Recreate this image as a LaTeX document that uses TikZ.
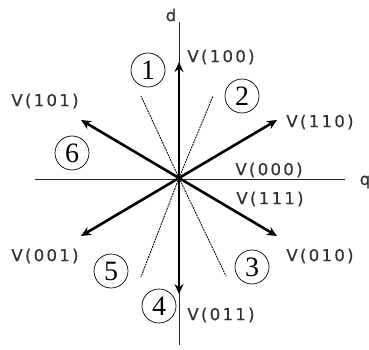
\documentclass[tikz,border=0pt]{standalone}
\usepackage{fontspec}
\setmainfont{Liberation Serif}
\newfontfamily\labfont[LetterSpace=14, FakeBold=0.6]{DejaVu Sans}
\usepackage{tikz}
\usetikzlibrary{arrows.meta}

\begin{document}
\begin{tikzpicture}[
  x=1pt, y=-1pt,
  axis/.style={line width=1pt, black!85},
  vec/.style={line width=2.6pt, -{Stealth[length=10pt,width=9pt]}},
  sector/.style={line width=0.9pt, dash pattern=on 1.8pt off 0.9pt},
  lab/.style={font=\labfont\fontsize{16.5}{16.5}\selectfont, text=black!80, inner sep=0pt},
  num/.style={draw, circle, line width=0.7pt, minimum size=34pt, inner sep=0pt, font=\fontsize{28}{28}\selectfont}
]
  \useasboundingbox (0,0) rectangle (369,350);
  % axes
  \coordinate (o) at (179,178);
  \coordinate (dtop) at (179,22);
  \coordinate (dbot) at (179,345);
  \coordinate (qleft) at (35,179);
  \coordinate (qright) at (345,179);
  \draw[axis] (dbot) -- (dtop);
  \draw[axis] (qleft) -- (qright);
  \node[lab] (d) at (171,15) {d};
  \node[lab] (q) at (365,182) {q};
  % voltage vectors
  \coordinate (v100) at (179,62);
  \coordinate (v110) at (277,120);
  \coordinate (v101) at (81,120);
  \coordinate (v001) at (81,236);
  \coordinate (v010) at (277,236);
  \coordinate (v011) at (179,294);
  \foreach \v in {v100,v110,v101,v001,v010,v011}
    \draw[vec] (o) -- (\v);
  % sector borders
  \coordinate (s12) at (213,96);
  \coordinate (s16) at (141,96);
  \coordinate (s45) at (141,277);
  \coordinate (s34) at (226,276);
  \foreach \s in {s12,s16,s45,s34}
    \draw[sector] (o) -- (\s);
  % labels
  \node[lab] (l100) at (221,57) {V(100)};
  \node[lab] (l110) at (320,122) {V(110)};
  \node[lab] (l101) at (45,101) {V(101)};
  \node[lab] (l000) at (269,170) {V(000)};
  \node[lab] (l111) at (270,199) {V(111)};
  \node[lab] (l001) at (45,256) {V(001)};
  \node[lab] (l010) at (320,256) {V(010)};
  \node[lab] (l011) at (221,315) {V(011)};
  % sectors
  \node[num] (n1) at (148,70) {1};
  \node[num] (n2) at (242,96) {2};
  \node[num] (n3) at (252,267) {3};
  \node[num] (n4) at (159,306) {4};
  \node[num] (n5) at (111,271) {5};
  \node[num] (n6) at (72,153) {6};
\end{tikzpicture}
\end{document}
